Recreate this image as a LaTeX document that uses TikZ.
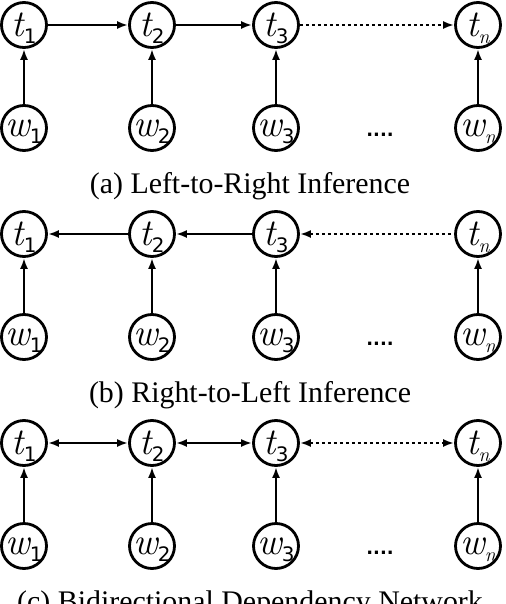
\documentclass[tikz,border=0pt]{standalone}
\usepackage{fontspec}
\setmainfont{Liberation Serif}
\newfontfamily\subfont{DejaVu Sans}
\newfontfamily\varfont{Latin Modern Roman}
\usetikzlibrary{arrows.meta}
\newcommand{\varlab}[2]{{\varfont\itshape\fontsize{38}{40}\selectfont #1}%
  \raisebox{-7bp}[0pt][0pt]{\fontsize{20}{22}\selectfont #2}}
\begin{document}
\begin{tikzpicture}
[x=1bp, y=-1bp, line width=2.8bp,
 var/.style ={draw, shape=circle, minimum size=45bp, inner sep=0pt, line width=2.8bp},
 fwd/.style ={-{Latex[length=11bp,width=8bp]}},
 bwd/.style ={{Latex[length=11bp,width=8bp]}-},
 both/.style ={{Latex[length=11bp,width=8bp]}-{Latex[length=11bp,width=8bp]}},
 dots/.style ={dash pattern=on 3bp off 3bp}]
\useasboundingbox (0,0) rectangle (506,604);
\foreach \p/\y/\dir/\cap in {a/0/fwd/(a) Left-to-Right Inference,
                             b/209/bwd/(b) Right-to-Left Inference,
                             c/418/both/(c) Bidirectional Dependency Network}
{
  \node[var] (t1\p) at (24,25+\y) {\varlab{t}{\subfont 1}};
  \node[var] (t2\p) at (152,25+\y) {\varlab{t}{\subfont 2}};
  \node[var] (t3\p) at (276,25+\y) {\varlab{t}{\subfont 3}};
  \node[var] (tn\p) at (478,25+\y) {\varlab{t}{\varfont\itshape n}};
  \node[var] (w1\p) at (24,128+\y) {\varlab{w}{\subfont 1}};
  \node[var] (w2\p) at (152,128+\y) {\varlab{w}{\subfont 2}};
  \node[var] (w3\p) at (276,128+\y) {\varlab{w}{\subfont 3}};
  \node[var] (wn\p) at (478,128+\y) {\varlab{w}{\varfont\itshape n}};
  \node[font=\subfont\bfseries\fontsize{18}{20}\selectfont] (gap\p) at (380,135+\y) {....};
  \node[font=\fontsize{30}{32}\selectfont] (cap\p) at (250,186+\y) {\cap};
  % chain of tags
  \draw[\dir] (t1\p) -- (t2\p);
  \draw[\dir] (t2\p) -- (t3\p);
  \draw[\dir, dots] (t3\p) -- (tn\p);
  % words to tags
  \draw[fwd] (w1\p) -- (t1\p);
  \draw[fwd] (w2\p) -- (t2\p);
  \draw[fwd] (w3\p) -- (t3\p);
  \draw[fwd] (wn\p) -- (tn\p);
}
\end{tikzpicture}
\end{document}
